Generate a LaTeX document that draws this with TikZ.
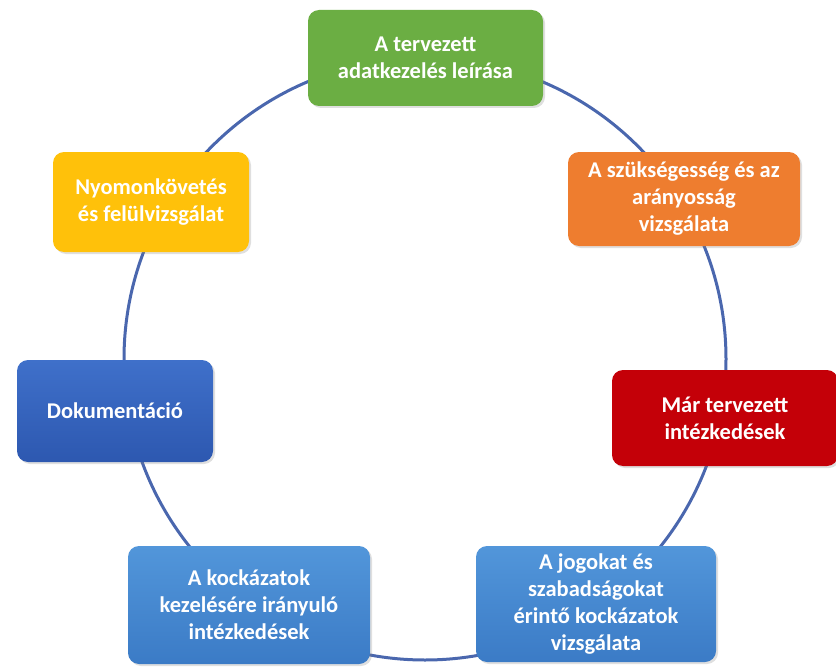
\documentclass[tikz,border=0pt]{standalone}
\usepackage{fontspec}
\setmainfont{Carlito}
\usetikzlibrary{shadows}
\definecolor{cgreen}{HTML}{6BAE43}
\definecolor{corange}{HTML}{EE7D2F}
\definecolor{cred}{HTML}{C40008}
\definecolor{cblue}{HTML}{5296DA}
\definecolor{cblueb}{HTML}{3B7BC6}
\definecolor{cdark}{HTML}{3F70CA}
\definecolor{cdarkb}{HTML}{2D58B0}
\definecolor{cyellow}{HTML}{FFC10A}
\definecolor{cline}{HTML}{4A67AE}
\tikzset{
  box/.style={rounded corners=11pt, text=white, font=\bfseries\fontsize{22.5}{27}\selectfont,
    align=center, inner sep=0pt, drop shadow={opacity=0.25, shadow xshift=2pt, shadow yshift=-2pt}},
  ring/.style={draw=cline, line width=3pt}
}
\begin{document}
\begin{tikzpicture}[x=1pt,y=-1pt]
\useasboundingbox (0,0) rectangle (836,669);
\draw[ring] (425,359) circle (301);
\node[box, fill=cgreen, minimum width=235pt, minimum height=96pt] (n1) at (425.5,58) {A tervezett\\adatkezelés leírása};
\node[box, fill=corange, minimum width=232pt, minimum height=94pt] (n2) at (684,199) {A szükségesség és az\\arányosság\\vizsgálata};
\node[box, fill=cred, minimum width=226pt, minimum height=96pt] (n3) at (725,418) {Már tervezett\\intézkedések};
\node[box, top color=cblue, bottom color=cblueb, minimum width=240pt, minimum height=116pt] (n4) at (596,604) {A jogokat és\\szabadságokat\\érintő kockázatok\\vizsgálata};
\node[box, top color=cblue, bottom color=cblueb, minimum width=242pt, minimum height=118pt] (n5) at (249,605) {A kockázatok\\kezelésére irányuló\\intézkedések};
\node[box, top color=cdark, bottom color=cdarkb, minimum width=196pt, minimum height=102pt] (n6) at (115,411) {Dokumentáció};
\node[box, fill=cyellow, minimum width=196pt, minimum height=100pt] (n7) at (151,202) {Nyomonkövetés\\és felülvizsgálat};
\end{tikzpicture}
\end{document}
